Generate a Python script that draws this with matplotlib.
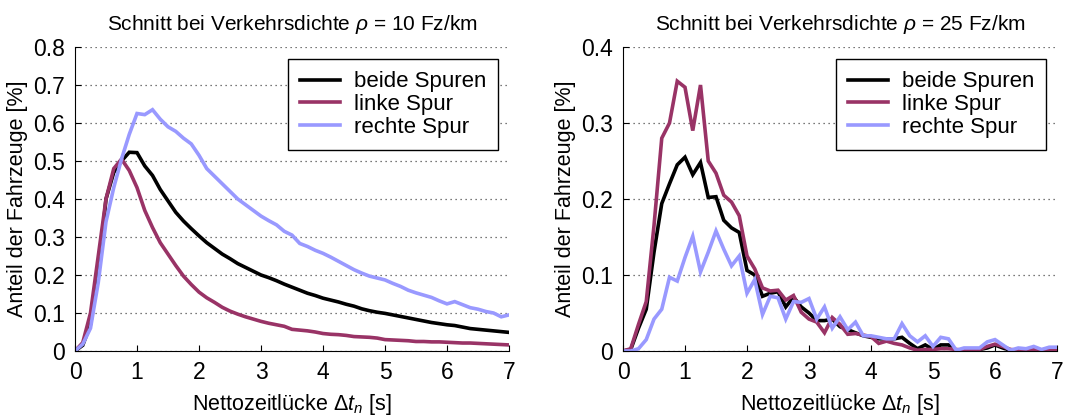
import numpy as np
import matplotlib
matplotlib.use("Agg")
import matplotlib.pyplot as plt
from matplotlib.ticker import FuncFormatter

plt.rcParams['font.family'] = ['Liberation Sans', 'DejaVu Sans']
plt.rcParams['mathtext.fontset'] = 'custom'
plt.rcParams['mathtext.rm'] = 'Liberation Sans'
plt.rcParams['mathtext.it'] = 'Liberation Sans:italic'

# time gap bins [s], 0.125 s wide
t = np.arange(57) * 0.125

# density 10 veh/km
beide_10 = [0.000, 0.015, 0.070, 0.200, 0.400, 0.470, 0.500, 0.523, 0.522, 0.487,
            0.462, 0.425, 0.395, 0.365, 0.342, 0.322, 0.303, 0.285, 0.270, 0.255,
            0.243, 0.230, 0.220, 0.210, 0.200, 0.193, 0.185, 0.176, 0.168, 0.160,
            0.152, 0.146, 0.139, 0.134, 0.129, 0.123, 0.118, 0.111, 0.106, 0.102,
            0.099, 0.095, 0.091, 0.087, 0.083, 0.079, 0.075, 0.072, 0.069, 0.067,
            0.063, 0.059, 0.057, 0.055, 0.053, 0.051, 0.049]
links_10 = [0.000, 0.022, 0.100, 0.250, 0.400, 0.480, 0.505, 0.475, 0.430, 0.370,
            0.325, 0.285, 0.255, 0.225, 0.197, 0.175, 0.155, 0.140, 0.128, 0.115,
            0.105, 0.097, 0.090, 0.084, 0.078, 0.073, 0.069, 0.065, 0.057, 0.055,
            0.053, 0.050, 0.046, 0.044, 0.043, 0.041, 0.038, 0.037, 0.036, 0.034,
            0.030, 0.029, 0.028, 0.027, 0.025, 0.025, 0.024, 0.024, 0.023, 0.022,
            0.021, 0.021, 0.020, 0.019, 0.018, 0.017, 0.016]
rechts_10 = [0.000, 0.018, 0.060, 0.180, 0.340, 0.430, 0.505, 0.570, 0.625, 0.622,
             0.635, 0.610, 0.590, 0.578, 0.560, 0.545, 0.515, 0.480, 0.460, 0.440,
             0.420, 0.400, 0.385, 0.370, 0.355, 0.343, 0.332, 0.315, 0.305, 0.283,
             0.275, 0.265, 0.257, 0.247, 0.236, 0.225, 0.214, 0.205, 0.197, 0.192,
             0.187, 0.178, 0.170, 0.160, 0.153, 0.147, 0.141, 0.132, 0.124, 0.130,
             0.122, 0.114, 0.110, 0.104, 0.100, 0.090, 0.095]

# density 25 veh/km
beide_25 = [0.000, 0.002, 0.030, 0.055, 0.130, 0.194, 0.220, 0.245, 0.255, 0.232,
            0.248, 0.202, 0.203, 0.172, 0.162, 0.156, 0.106, 0.100, 0.072, 0.076,
            0.078, 0.058, 0.071, 0.058, 0.050, 0.040, 0.040, 0.042, 0.032, 0.028,
            0.024, 0.020, 0.018, 0.016, 0.016, 0.016, 0.018, 0.010, 0.003, 0.008,
            0.002, 0.008, 0.008, 0.001, 0.002, 0.002, 0.002, 0.004, 0.008, 0.004,
            0.001, 0.001, 0.001, 0.004, 0.001, 0.002, 0.002]
links_25 = [0.000, 0.003, 0.035, 0.065, 0.165, 0.280, 0.300, 0.355, 0.347, 0.290,
            0.350, 0.250, 0.234, 0.205, 0.196, 0.178, 0.125, 0.108, 0.083, 0.079,
            0.080, 0.067, 0.073, 0.051, 0.042, 0.038, 0.024, 0.044, 0.035, 0.022,
            0.023, 0.021, 0.019, 0.010, 0.013, 0.010, 0.008, 0.004, 0.001, 0.002,
            0.002, 0.003, 0.003, 0.002, 0.001, 0.002, 0.002, 0.006, 0.009, 0.006,
            0.002, 0.001, 0.002, 0.002, 0.001, 0.002, 0.002]
rechts_25 = [0.000, 0.000, 0.003, 0.015, 0.042, 0.055, 0.097, 0.092, 0.123, 0.151,
             0.104, 0.130, 0.158, 0.134, 0.112, 0.125, 0.076, 0.094, 0.048, 0.072,
             0.070, 0.042, 0.065, 0.064, 0.069, 0.042, 0.058, 0.030, 0.045, 0.028,
             0.038, 0.020, 0.020, 0.018, 0.016, 0.016, 0.036, 0.020, 0.012, 0.020,
             0.006, 0.018, 0.016, 0.001, 0.004, 0.004, 0.004, 0.012, 0.015, 0.008,
             0.001, 0.004, 0.003, 0.006, 0.002, 0.005, 0.005]

labels = ['beide Spuren', 'linke Spur', 'rechte Spur']
colors = ['black', '#993366', '#9999ff']
dichte = [10, 25]
y_max = [0.8, 0.4]

fig = plt.figure(figsize=(10.79, 4.19), dpi=100)
ax1 = fig.add_axes([75 / 1079, 68 / 419, 434 / 1079, 304 / 419])
ax2 = fig.add_axes([623 / 1079, 68 / 419, 434 / 1079, 304 / 419])

panels = [(ax1, [beide_10, links_10, rechts_10]),
          (ax2, [beide_25, links_25, rechts_25])]

for i, (ax, series) in enumerate(panels):
    for y, lab, c in zip(series, labels, colors):
        ax.plot(t, y, color=c, lw=2.6, label=lab, solid_joinstyle='miter')
    ax.set_xlim(0, 7)
    ax.set_ylim(0, y_max[i])
    ax.set_xticks(range(8))
    ax.set_yticks(np.arange(0, y_max[i] + 0.01, 0.1))
    ax.yaxis.set_major_formatter(FuncFormatter(lambda v, p: '%g' % round(v, 1)))
    ax.tick_params(direction='in', length=4, labelsize=16.5, pad=7)
    ax.spines['top'].set_visible(False)
    ax.spines['right'].set_visible(False)
    ax.yaxis.grid(True, linestyle=(0, (1, 3)), color='0.3', lw=0.9)
    ax.set_axisbelow(True)
    ax.set_title('Schnitt bei Verkehrsdichte $\\rho$ = %d Fz/km' % dichte[i],
                 fontsize=15, pad=12)
    ax.set_xlabel('Nettozeitlücke $\\Delta t_n$ [s]', fontsize=15.5, labelpad=6)
    ax.set_ylabel('Anteil der Fahrzeuge [%]', fontsize=15.5, labelpad=4)
    leg = ax.legend(loc='upper right', bbox_to_anchor=(0.975, 0.96), fontsize=16,
                    fancybox=False, framealpha=1, edgecolor='black',
                    handlelength=1.8, handletextpad=0.6, labelspacing=0.08,
                    borderpad=0.55, borderaxespad=0)
    leg.get_frame().set_linewidth(1.0)

fig.savefig('out.png', dpi=100)
